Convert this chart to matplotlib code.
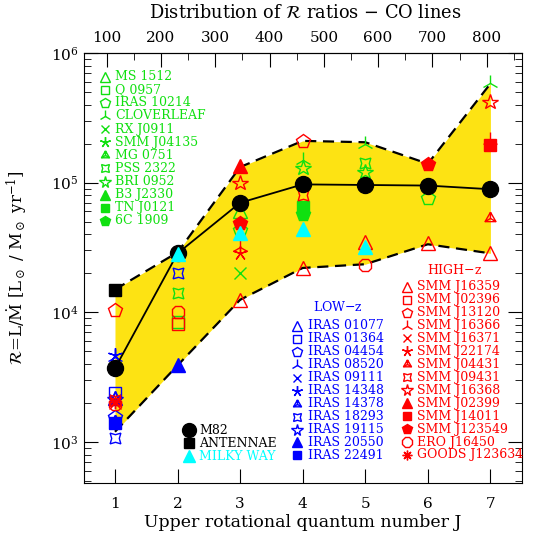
import matplotlib
matplotlib.use("Agg")
import matplotlib.pyplot as plt
from matplotlib.path import Path
from matplotlib.ticker import MultipleLocator, LogLocator, NullFormatter

plt.rcParams['font.family'] = 'DejaVu Serif'
plt.rcParams['mathtext.fontset'] = 'dejavuserif'

# --- data -------------------------------------------------------------
J = [1, 2, 3, 4, 5, 6, 7]
m82 = [3700, 28500, 70000, 97000, 96000, 95000, 89000]
env_upper = [15000, 29000, 132000, 210000, 205000, 140000, 580000]
env_lower = [1200, 3900, 12500, 22000, 23500, 33500, 28500]

antennae_J, antennae_R = [1], [15000]
milkyway_J, milkyway_R = [2, 3, 4, 5], [28000, 41000, 44000, 32000]

# shapes shared by the three galaxy groups (same order as legend rows)
green_names = ['MS 1512', 'Q 0957', 'IRAS 10214', 'CLOVERLEAF', 'RX J0911',
               'SMM J04135', 'MG 0751', 'PSS 2322', 'BRI 0952', 'B3 J2330',
               'TN J0121', '6C 1909']
green_shapes = ['tri', 'sq', 'pent', 'tripod', 'x', 'skel', 'triy', 'conc',
                'star', 'tri_f', 'sq_f', 'pent_f']
green_J = [[3], [2], [3, 6], [4, 5, 7], [3], [], [], [1, 2, 5], [4, 5], [],
           [4], [4]]
green_R = [[60000], [8400], [43000, 76000], [150000, 200000, 590000], [20000],
           [], [], [1400, 14000, 142000], [130000, 121000], [], [65000], [57000]]

blue_names = ['IRAS 01077', 'IRAS 01364', 'IRAS 04454', 'IRAS 08520',
              'IRAS 09111', 'IRAS 14348', 'IRAS 14378', 'IRAS 18293',
              'IRAS 19115', 'IRAS 20550', 'IRAS 22491']
blue_shapes = ['tri', 'sq', 'pent', 'tripod', 'x', 'skel', 'triy', 'conc',
               'star', 'tri_f', 'sq_f']
blue_J = [[1], [1], [1], [1], [1], [1], [1], [1, 2], [1], [2], [1]]
blue_R = [[2200], [2400], [1550], [4500], [2100], [4700], [1450],
          [1080, 20000], [2150], [3900], [1400]]

red_names = ['SMM J16359', 'SMM J02396', 'SMM J13120', 'SMM J16366',
             'SMM J16371', 'SMM J22174', 'SMM J04431', 'SMM J09431',
             'SMM J16368', 'SMM J02399', 'SMM J14011', 'SMM J123549',
             'ERO J16450', 'GOODS J123634']
red_shapes = ['tri', 'sq', 'pent', 'tripod', 'x', 'skel', 'triy', 'conc',
              'star', 'tri_f', 'sq_f', 'pent_f', 'oct', 'ast']
red_J = [[3, 4, 5, 6, 7], [2], [1, 4], [3, 7], [1], [3], [7], [1, 4], [3, 7],
         [3], [7], [3, 6], [1, 2, 5], [1]]
red_R = [[12500, 22000, 35000, 34000, 28500], [8200], [10500, 210000],
         [32000, 212000], [2000], [28500], [53000], [2100, 80000],
         [100000, 420000], [135000], [195000], [49000, 140000],
         [1950, 10000, 23000], [2050]]

GREEN = '#10e010'
BLUE = '#0000ff'
RED = '#ff0000'
CYAN = '#00ffff'
YELLOW = '#fde313'

# --- marker shapes ----------------------------------------------------
triy_path = Path([(0, 1), (-0.866, -0.5), (0.866, -0.5), (0, 1),
                  (0, 0), (0, 1), (0, 0), (-0.866, -0.5), (0, 0), (0.866, -0.5)],
                 [Path.MOVETO, Path.LINETO, Path.LINETO, Path.LINETO,
                  Path.MOVETO, Path.LINETO, Path.MOVETO, Path.LINETO,
                  Path.MOVETO, Path.LINETO])

# shape -> (marker, filled, size factor)
SHAPES = {
    'tri': ('^', False, 1.0),
    'sq': ('s', False, 0.85),
    'pent': ('p', False, 1.05),
    'tripod': ('2', False, 1.25),
    'x': ('x', False, 0.85),
    'skel': ((5, 2, 0), False, 1.1),
    'triy': (triy_path, False, 0.95),
    'conc': ((4, 1, 45), False, 1.15),
    'star': ('*', False, 1.2),
    'tri_f': ('^', True, 1.0),
    'sq_f': ('s', True, 0.85),
    'pent_f': ('p', True, 1.05),
    'oct': ('8', False, 1.05),
    'ast': ((8, 2, 0), False, 1.0),
}


def put(ax, x, y, shape, color, ms, **kw):
    mk, filled, f = SHAPES[shape]
    ax.plot(x, y, linestyle='none', marker=mk, ms=ms * f,
            mfc=color if filled else 'none', mec=color, mew=1.0, **kw)


fig = plt.figure(figsize=(5.36, 5.38), dpi=100)
ax = fig.add_axes([83.7 / 536, 1 - 483 / 538, 438 / 536, 430 / 538])

ax.set_yscale('log')
ax.set_xlim(0.5, 7.5)
ax.set_ylim(483, 1e6)

# envelope
ax.fill_between(J, env_lower, env_upper, color=YELLOW, lw=0, zorder=1)
ax.plot(J, env_upper, color='k', ls=(0, (5, 3)), lw=1.6, zorder=2)
ax.plot(J, env_lower, color='k', ls=(0, (5, 3)), lw=1.6, zorder=2)

# galaxy groups
for names, shapes, js, rs, col in [(green_names, green_shapes, green_J, green_R, GREEN),
                                   (blue_names, blue_shapes, blue_J, blue_R, BLUE),
                                   (red_names, red_shapes, red_J, red_R, RED)]:
    for shp, jj, rr in zip(shapes, js, rs):
        if jj:
            put(ax, jj, rr, shp, col, 9.5, zorder=4)

# M82 line, antennae, milky way
ax.plot(J, m82, color='k', lw=1.3, marker='o', ms=11.5, zorder=5)
ax.plot(antennae_J, antennae_R, ls='none', marker='s', ms=8.5, color='k', zorder=5)
ax.plot(milkyway_J, milkyway_R, ls='none', marker='^', ms=9.5, color=CYAN, zorder=6)

# --- legends drawn in axes coordinates ---------------------------------
def legend_block(names, shapes, col, xm, xt, y0, dy):
    for i, (nm, shp) in enumerate(zip(names, shapes)):
        y = y0 - i * dy
        put(ax, [xm], [y], shp, col, 7, transform=ax.transAxes, clip_on=False, zorder=7)
        ax.text(xt, y, nm, color=col, fontsize=9, ha='left', va='center',
                transform=ax.transAxes, zorder=7)


legend_block(green_names, green_shapes, GREEN, 0.048, 0.071, 0.945, 0.0305)
ax.text(0.58, 0.409, 'LOW$-$z', color=BLUE, fontsize=9, ha='center', va='center',
        transform=ax.transAxes)
legend_block(blue_names, blue_shapes, BLUE, 0.488, 0.511, 0.366, 0.0302)
ax.text(0.846, 0.496, 'HIGH$-$z', color=RED, fontsize=9, ha='center', va='center',
        transform=ax.transAxes)
legend_block(red_names, red_shapes, RED, 0.737, 0.760, 0.4565, 0.0301)

blk = [('M82', 'o', 'k', 10), ('ANTENNAE', 's', 'k', 7.5), ('MILKY WAY', '^', CYAN, 8)]
for i, (nm, mk, col, ms) in enumerate(blk):
    y = 0.123 - i * 0.0302
    ax.plot([0.241], [y], ls='none', marker=mk, ms=ms, color=col,
            transform=ax.transAxes, clip_on=False, zorder=7)
    ax.text(0.263, y, nm, color=col, fontsize=9, ha='left', va='center',
            transform=ax.transAxes)

# --- axes cosmetics ----------------------------------------------------
ax.set_xticks(J)
ax.tick_params(axis='x', which='both', direction='in', top=False, length=10,
               labelsize=11, pad=10)
ax.yaxis.set_major_locator(LogLocator(base=10))
ax.yaxis.set_minor_locator(LogLocator(base=10, subs=range(2, 10)))
ax.yaxis.set_minor_formatter(NullFormatter())
ax.tick_params(axis='y', which='major', direction='in', right=True, length=10,
               labelsize=11)
ax.tick_params(axis='y', which='minor', direction='in', right=True, length=5)

sec = ax.secondary_xaxis('top', functions=(lambda j: j * 115.27, lambda f: f / 115.27))
sec.set_xticks(range(100, 801, 100))
sec.xaxis.set_minor_locator(MultipleLocator(50))
sec.tick_params(which='major', direction='in', length=10, labelsize=11, pad=6)
sec.tick_params(which='minor', direction='in', length=5)

ax.set_xlabel('Upper rotational quantum number J', fontsize=12.5, labelpad=2)
ax.set_ylabel(r'$\mathcal{R}$=L/$\dot{\rm M}$ [L$_\odot$ / M$_\odot$ yr$^{-1}$]',
              fontsize=12, labelpad=16)
fig.text(305 / 536, 1 - 13 / 538, r'Distribution of $\mathcal{R}$ ratios $-$ CO lines',
         ha='center', va='center', fontsize=12.8)

plt.savefig('out.png', dpi=100)
